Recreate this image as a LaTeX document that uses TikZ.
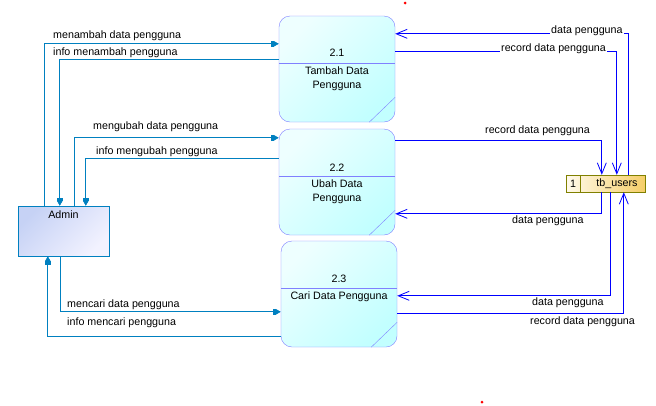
\documentclass[tikz,border=0pt]{standalone}
\usepackage{fontspec}
\setmainfont{Liberation Sans}
\usepackage{xcolor}
\definecolor{ColProc}{RGB}{128,128,255}
\definecolor{ColProcA}{RGB}{238,255,255}
\definecolor{ColProcB}{RGB}{194,255,255}
\definecolor{ColAdm}{RGB}{0,128,192}
\definecolor{ColAdmA}{RGB}{198,210,245}
\definecolor{ColAdmB}{RGB}{242,242,255}
\definecolor{ColStore}{RGB}{128,128,0}
\definecolor{ColStoreA}{RGB}{255,250,236}
\definecolor{ColStoreB}{RGB}{245,206,104}
\definecolor{ColFlow}{RGB}{0,0,255}
\usepackage{tikz}
\usetikzlibrary{arrows.meta}
\tikzstyle{Txt}=[inner sep=0pt,font=\fontsize{10.7}{14}\selectfont]
\tikzstyle{TxtW}=[Txt,fill=white,inner sep=1pt]
\tikzstyle{Proc}=[rectangle,rounded corners=11pt,draw=ColProc,inner sep=0pt,
minimum width=116pt,minimum height=106pt,top color=ColProcA,
bottom color=ColProcB,shading angle=45]
\tikzstyle{Ext}=[rectangle,draw=ColAdm,inner sep=0pt,minimum width=91pt,
minimum height=50pt,top color=ColAdmA,bottom color=ColAdmB,shading angle=45]
\tikzstyle{Store}=[rectangle,draw=ColStore,inner sep=0pt,minimum width=79pt,
minimum height=17pt,left color=ColStoreA,right color=ColStoreB]
\tikzstyle{AdmFlow}=[draw=ColAdm,line width=0.7pt,
-{Rectangle[length=3pt,width=5pt]Triangle[length=5pt,width=5.5pt]}]
\tikzstyle{StFlow}=[draw=ColFlow,line width=0.8pt,
-{Straight Barb[length=11pt,width=9pt,line width=0.8pt]}]

\begin{document}
\begin{tikzpicture}[x=1pt,y=-1pt]
        \useasboundingbox(0,0)rectangle(656,405);
        \node[Proc](p1)at(337,69){};
        \node[Proc](p2)at(337,182){};
        \node[Proc](p3)at(339,294){};
        \foreach \p in {p1,p2,p3}{
            \draw[ColProc]([yshift=-47pt]\p.north west)--([yshift=-47pt]\p.north east);
            \draw[ColProc]([xshift=-26pt]\p.south east)--([yshift=25pt]\p.south east);
        }
        \node[Txt](p1n)at(337,53){2.1};
        \node[Txt,align=center,anchor=north](p1t)at(337,67){Tambah Data\\Pengguna};
        \node[Txt](p2n)at(337,168){2.2};
        \node[Txt,align=center,anchor=north](p2t)at(337,180){Ubah Data\\Pengguna};
        \node[Txt](p3n)at(339,279){2.3};
        \node[Txt](p3t)at(339,297){Cari Data Pengguna};
        \node[Ext](adm)at(63.5,231){};
        \node[Txt](admt)at(63.5,215){Admin};
        \node[Store](st)at(605.5,183.5){};
        \draw[ColStore]([xshift=14pt]st.north west)--([xshift=14pt]st.south west);
        \node[Txt](stn)at(573,183.5){1};
        \node[Txt](stt)at(617,183.5){tb\_users};
        \draw[AdmFlow]([xshift=27pt]adm.north west)|-([yshift=-28pt]p1.north west);
        \draw[AdmFlow]([yshift=-44pt]p1.north west)-|([xshift=42pt]adm.north west);
        \draw[AdmFlow]([xshift=57pt]adm.north west)|-([yshift=-9pt]p2.north west);
        \draw[AdmFlow]([yshift=-30pt]p2.north west)-|([xshift=68pt]adm.north west);
        \draw[AdmFlow]([xshift=43pt]adm.south west)|-([yshift=-71pt]p3.north west);
        \draw[AdmFlow]([yshift=-96pt]p3.north west)-|([xshift=30pt]adm.south west);
        \node[Txt,anchor=west](l1)at(53,36){menambah data pengguna};
        \node[Txt,anchor=west](l2)at(53,53){info menambah pengguna};
        \node[Txt,anchor=west](l3)at(93,127){mengubah data pengguna};
        \node[Txt,anchor=west](l4)at(96,152){info mengubah pengguna};
        \node[Txt,anchor=west](l5)at(67,305){mencari data pengguna};
        \node[Txt,anchor=west](l6)at(67,323){info mencari pengguna};
        \draw[StFlow]([xshift=63pt]st.north west)|-([yshift=-18pt]p1.north east);
        \draw[StFlow]([yshift=-36pt]p1.north east)-|([xshift=51pt]st.north west);
        \draw[StFlow]([yshift=-12pt]p2.north east)-|([xshift=36pt]st.north west);
        \draw[StFlow]([xshift=36pt]st.south west)|-([yshift=-85pt]p2.north east);
        \draw[StFlow]([xshift=45pt]st.south west)|-([yshift=-55pt]p3.north east);
        \draw[StFlow]([yshift=-73pt]p3.north east)-|([xshift=58pt]st.south west);
        \node[TxtW,anchor=west](r1)at(550,31){data pengguna};
        \node[TxtW,anchor=west](r2)at(500,49){record data pengguna};
        \node[Txt,anchor=west](r3)at(485,131){record data pengguna};
        \node[Txt,anchor=west](r4)at(512,221){data pengguna};
        \node[Txt,anchor=west](r5)at(532,303){data pengguna};
        \node[Txt,anchor=west](r6)at(530,322){record data pengguna};
        \fill[red](405,3)circle(1.5pt);
        \fill[red](482,402)circle(1.5pt);
    \end{tikzpicture}
\end{document}
